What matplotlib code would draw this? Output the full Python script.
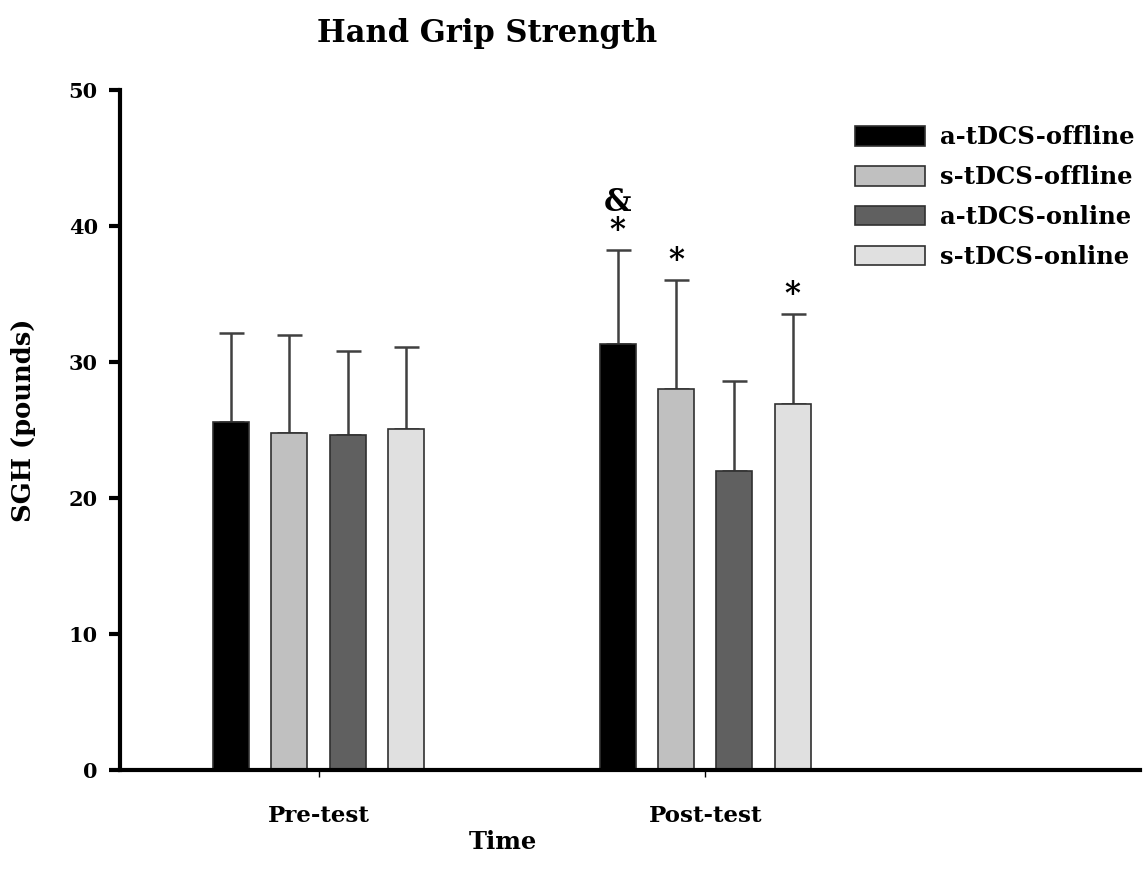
import matplotlib
matplotlib.use("Agg")
import matplotlib.pyplot as plt
import numpy as np

# --- data ---
time_points = ["Pre-test", "Post-test"]
groups = ["a-tDCS-offline", "s-tDCS-offline", "a-tDCS-online", "s-tDCS-online"]
means = {
    "a-tDCS-offline": [25.6, 31.3],
    "s-tDCS-offline": [24.8, 28.0],
    "a-tDCS-online": [24.6, 22.0],
    "s-tDCS-online": [25.1, 26.9],
}
sds = {
    "a-tDCS-offline": [6.5, 6.9],
    "s-tDCS-offline": [7.2, 8.0],
    "a-tDCS-online": [6.2, 6.6],
    "s-tDCS-online": [6.0, 6.6],
}
# significance marks above post-test bars
marks = {
    "a-tDCS-offline": ["", "&\n*"],
    "s-tDCS-offline": ["", "*"],
    "a-tDCS-online": ["", ""],
    "s-tDCS-online": ["", "*"],
}
colors = ["#000000", "#c0c0c0", "#606060", "#e0e0e0"]

plt.rcParams['font.family'] = ['DejaVu Serif']
plt.rcParams['font.weight'] = 'bold'

fig = plt.figure(figsize=(11.46, 8.82), dpi=100)
ax = fig.add_axes([0.1047, 0.127, 0.890, 0.771])

x = np.arange(1, len(time_points) + 1)
width = 0.093
step = 0.151
offsets = (np.arange(len(groups)) - 1.5) * step

for i, g in enumerate(groups):
    xs = x + offsets[i]
    ax.bar(xs, means[g], width, color=colors[i], edgecolor="#303030",
           linewidth=1.2, label=g, zorder=2)
    ax.errorbar(xs, means[g], yerr=[np.zeros(len(x)), sds[g]], fmt="none",
                ecolor="#404040", elinewidth=1.8, capsize=9, capthick=1.8, zorder=1)
    for j in range(len(x)):
        if marks[g][j]:
            ax.text(xs[j], means[g][j] + sds[g][j] + 0.3, marks[g][j],
                    ha="center", va="bottom", fontsize=22, linespacing=0.9)

ax.set_xlim(0.486, 3.125)
ax.set_ylim(0, 50)
ax.set_yticks([0, 10, 20, 30, 40, 50])
ax.set_xticks(x)
ax.set_xticklabels(time_points)

for s in ["top", "right"]:
    ax.spines[s].set_visible(False)
for s in ["left", "bottom"]:
    ax.spines[s].set_linewidth(3)
ax.tick_params(axis="y", width=3, length=8, labelsize=15, pad=8)
ax.tick_params(axis="x", width=1, length=5, labelsize=16.5, pad=20)

ax.set_ylabel("SGH (pounds)", fontsize=18.5, fontweight="bold")
ax.yaxis.set_label_coords(-0.082, 0.515)
fig.text(0.439, 0.045, "Time", ha="center", va="center", fontsize=17.5, fontweight="bold")
fig.text(0.425, 0.962, "Hand Grip Strength", ha="center", va="center", fontsize=22,
         fontweight="bold")

leg = ax.legend(loc="upper right", bbox_to_anchor=(1.016, 0.98), frameon=False,
                fontsize=17.5, handlelength=2.9, handleheight=0.85, labelspacing=0.65,
                handletextpad=0.6)

fig.savefig("out.png", dpi=100)
